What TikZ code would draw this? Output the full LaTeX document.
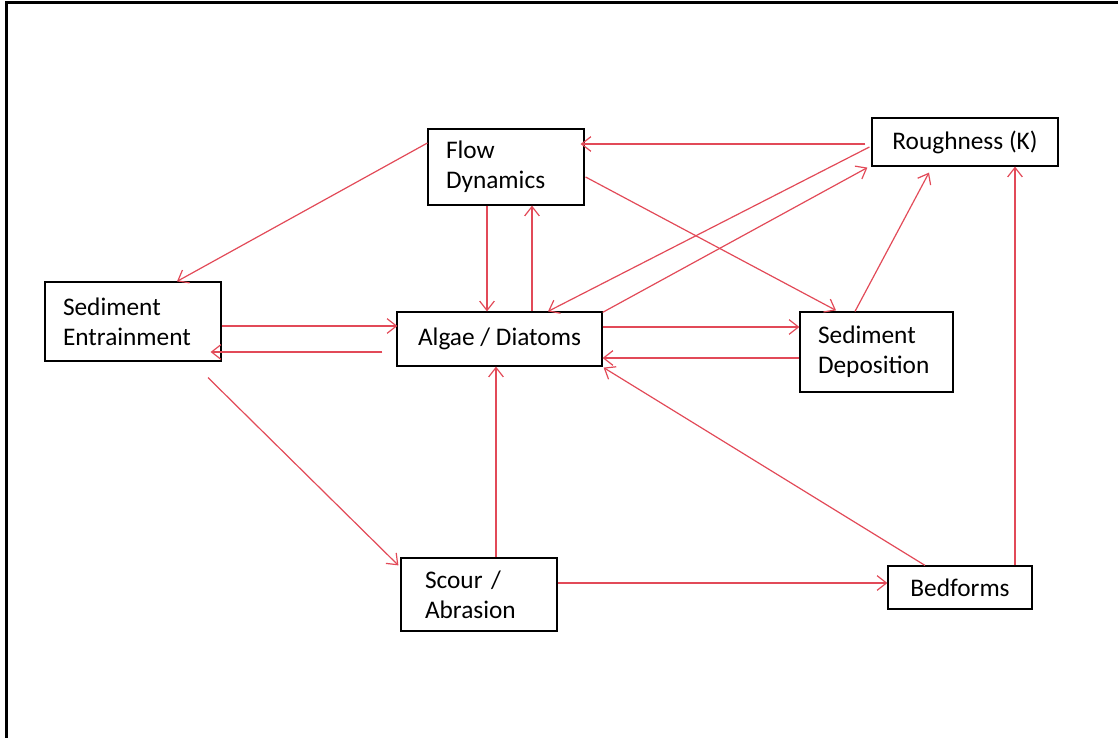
\documentclass[tikz,border=0pt]{standalone}
\usepackage{fontspec}
\setmainfont{Carlito}
\usetikzlibrary{arrows.meta,calc}

\definecolor{linkred}{RGB}{226,74,88}

\tikzset{
	box/.style = {draw, line width=0.9pt, inner sep=0pt, font=\fontsize{19}{22.5}\selectfont},
	leftbox/.style = {box, align=left, inner xsep=13.5pt},
	link/.style = {draw=linkred, line width=0.9pt, -{Straight Barb[length=7pt,width=11pt]}}
}

\begin{document}
\begin{tikzpicture}[x=0.75pt, y=-0.75pt]

	\useasboundingbox (0,0) rectangle (1118,738);
	\draw [line width=2.25pt] (6,740) -- (6,3) -- (1120,3);

	\node [leftbox, text width=90pt, minimum height=57pt] (flow) at (506,167) {Flow\\Dynamics};
	\node [box, minimum width=139.5pt, minimum height=36pt] (rough) at (965,142) {Roughness (K)};
	\node [leftbox, text width=105pt, minimum height=59.25pt] (entr) at (133,321.5) {Sediment\\Entrainment};
	\node [box, minimum width=153.75pt, minimum height=40.5pt] (algae) at (499.5,339) {Algae / Diatoms};
	\node [leftbox, text width=87.75pt, minimum height=60pt] (depo) at (876.5,352) {Sediment\\Deposition};
	\node [leftbox, inner xsep=18pt, text width=81pt, minimum height=54.75pt] (scour) at (479,594.5) {Scour /\\Abrasion};
	\node [box, minimum width=108pt, minimum height=32.25pt] (bed) at (960,587.5) {Bedforms};

	\draw [link] ($(flow.west)+(0,-24)$) -- ($(entr.north)+(44,0)$);
	\draw [link] ($(rough.west)+(-6,2)$) -- ($(flow.east)+(-4,-23)$);
	\draw [link] ($(flow.south)+(-19,0)$) -- ($(algae.north)+(-12.5,0)$);
	\draw [link] ($(algae.north)+(32.5,0)$) -- ($(flow.south)+(26,0)$);
	\draw [link] ($(flow.east)+(1,10)$) -- ($(depo.north)+(-40.5,-1)$);
	\draw [link] ($(rough.west)+(-2,5)$) -- ($(algae.north)+(48.5,0)$);
	\draw [link] ($(algae.north east)+(0,1)$) -- ($(rough.south west)+(-4,1)$);
	\draw [link] ($(depo.north)+(-21.5,0)$) -- ($(rough.south)+(-36,6)$);
	\draw [link] ($(bed.north)+(55,0)$) -- ($(rough.south)+(50,0)$);
	\draw [link] ($(entr.east)+(0,4.5)$) -- ($(algae.west)+(1,-13)$);
	\draw [link] ($(algae.west)+(-14,13)$) -- ($(entr.east)+(-11,30.5)$);
	\draw [link] ($(algae.east)+(0,-12)$) -- ($(depo.west)+(0,-25)$);
	\draw [link] ($(depo.west)+(0,6)$) -- ($(algae.east)+(0,19)$);
	\draw [link] ($(entr.south)+(75,16)$) -- ($(scour.north west)+(-2,8)$);
	\draw [link] ($(scour.north)+(17,0)$) -- ($(algae.south)+(-3.5,0)$);
	\draw [link] ($(scour.east)+(0,-11.5)$) -- ($(bed.west)+(0,-4.5)$);
	\draw [link] ($(bed.north)+(-35,0)$) -- ($(algae.south east)+(1,1)$);

\end{tikzpicture}
\end{document}
